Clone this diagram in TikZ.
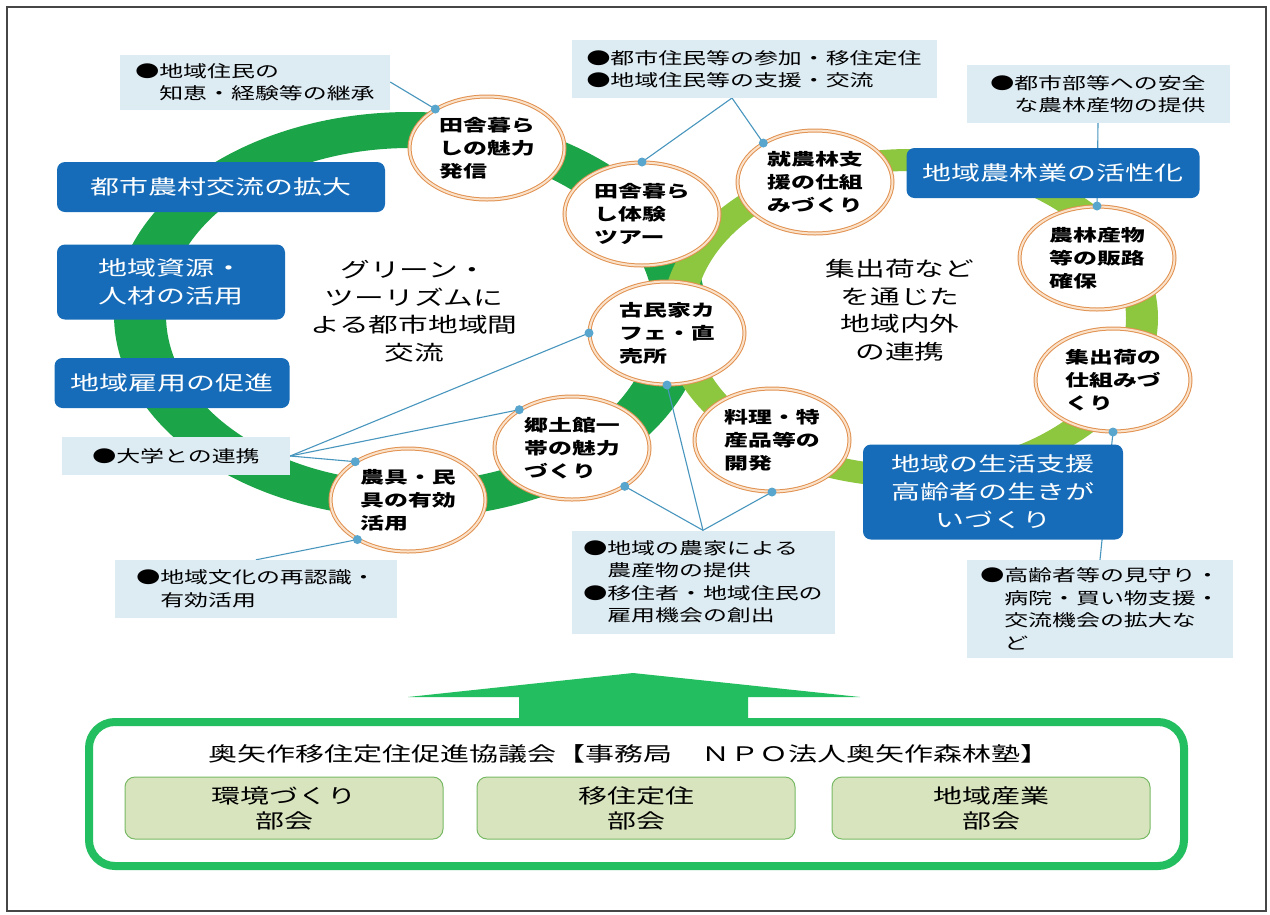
\documentclass[tikz,border=0pt]{standalone}
\usepackage{fontspec}
\usepackage{tikz}
\usetikzlibrary{shapes.geometric}
\newfontfamily\jpfont[FakeStretch=1.45]{Noto Sans CJK JP}
\definecolor{dark_green}{RGB}{28,165,72}
\definecolor{light_green}{RGB}{141,198,63}
\definecolor{base_green}{RGB}{34,190,95}
\definecolor{box_blue}{RGB}{22,108,184}
\definecolor{pale_blue}{RGB}{221,235,243}
\definecolor{line_blue}{RGB}{72,150,190}
\definecolor{dot_blue}{RGB}{88,165,205}
\definecolor{ring_orange}{RGB}{225,145,80}
\definecolor{ring_peach}{RGB}{250,226,202}
\definecolor{pale_olive}{RGB}{216,228,190}
\definecolor{olive_edge}{RGB}{120,185,100}
\definecolor{frame_gray}{RGB}{70,70,70}

\pgfdeclarelayer{back}
\pgfdeclarelayer{front}
\pgfsetlayers{back,main,front}

\tikzset{
	act_ring/.style={ellipse,draw=ring_orange,double=ring_peach,double distance=2pt,line width=1pt,fill=white,
		minimum width=155pt,minimum height=103pt,inner sep=0pt,align=left,
		font=\jpfont\bfseries\fontsize{16.5}{23}\selectfont},
	goal_box/.style={rounded corners=8pt,fill=box_blue,text=white,align=center,inner sep=0pt,
		font=\jpfont\fontsize{20}{28}\selectfont},
	note_box/.style={fill=pale_blue,align=left,inner sep=0pt,
		font=\jpfont\fontsize{16.5}{22.5}\selectfont},
	theme_text/.style={align=center,font=\jpfont\fontsize{20.5}{27.5}\selectfont},
	bukai_box/.style={draw=olive_edge,line width=1pt,fill=pale_olive,rounded corners=10pt,align=center,
		minimum width=318pt,minimum height=62pt,inner sep=0pt,font=\jpfont\fontsize{20}{25}\selectfont},
}

\begin{document}
\begin{tikzpicture}[x=1pt,y=-1pt]
	\useasboundingbox (0,0) rectangle (1270,914);

	% activities on the two rings
	\node[act_ring] (E1) at (487,148) {田舎暮ら\\しの魅力\\発信};
	\node[act_ring] (E2) at (642,214) {田舎暮ら\\し体験\\ツアー};
	\node[act_ring] (E3) at (815,182) {就農林支\\援の仕組\\みづくり};
	\node[act_ring] (E4) at (1097,258) {農林産物\\等の販路\\確保};
	\node[act_ring] (E5) at (1113,380) {集出荷の\\仕組みづ\\くり};
	\node[act_ring] (E6) at (667,333) {古民家カ\\フェ・直\\売所};
	\node[act_ring] (E7) at (772,440) {料理・特\\産品等の\\開発};
	\node[act_ring] (E8) at (572,448) {郷土館一\\帯の魅力\\づくり};
	\node[act_ring] (E9) at (408,500) {農具・民\\具の有効\\活用};

	% goals
	\node[goal_box,minimum width=328pt,minimum height=50pt] (B1) at (221,187) {都市農村交流の拡大};
	\node[goal_box,minimum width=228pt,minimum height=75pt] (B2) at (171,282) {地域資源・\\人材の活用};
	\node[goal_box,minimum width=235pt,minimum height=50pt] (B3) at (172,383) {地域雇用の促進};
	\node[goal_box,minimum width=293pt,minimum height=50pt] (B4) at (1053,173) {地域農林業の活性化};
	\node[goal_box,minimum width=260pt,minimum height=95pt] (B5) at (993,492) {地域の生活支援\\高齢者の生きが\\いづくり};

	% notes
	\node[note_box,minimum width=270pt,minimum height=55pt] (L1) at (255,82) {●地域住民の\\\phantom{●}知恵・経験等の継承};
	\node[note_box,minimum width=365pt,minimum height=58pt] (L2) at (754,69) {●都市住民等の参加・移住定住\\●地域住民等の支援・交流};
	\node[note_box,minimum width=263pt,minimum height=58pt] (L3) at (1098,94) {●都市部等への安全\\\phantom{●}な農林産物の提供};
	\node[note_box,minimum width=228pt,minimum height=38pt] (L4) at (176,456) {●大学との連携};
	\node[note_box,minimum width=282pt,minimum height=58pt] (L5) at (256,589) {●地域文化の再認識・\\\phantom{●}有効活用};
	\node[note_box,minimum width=263pt,minimum height=103pt] (L6) at (703,582) {●地域の農家による\\\phantom{●}農産物の提供\\●移住者・地域住民の\\\phantom{●}雇用機会の創出};
	\node[note_box,minimum width=266pt,minimum height=98pt] (L7) at (1100,609) {●高齢者等の見守り・\\\phantom{●}病院・買い物支援・\\\phantom{●}交流機会の拡大な\\\phantom{●}ど};

	% ring themes
	\node[theme_text] (T1) at (414,311) {グリーン・\\ツーリズムに\\よる都市地域間\\交流};
	\node[theme_text] (T2) at (900,310) {集出荷など\\を通じた\\地域内外\\の連携};

	\coordinate (L2fork) at (732,98);

	\begin{pgfonlayer}{back}
		\fill[white] (0,0) rectangle (1270,914);
		\fill[dark_green,even odd rule] (410,315) ellipse [x radius=296,y radius=203]
			(410,315) ellipse [x radius=244,y radius=167];
		\fill[light_green,even odd rule] (910,318) ellipse [x radius=248,y radius=169]
			(910,318) ellipse [x radius=216,y radius=147];
		\foreach \a/\b in {L1.east/E1.143,L2fork/E2.north,L2fork/E3.143,L3.south/E4.north,
			L4.east/E6.west,L4.east/E8.144,L4.east/E9.144,L5.north/E9.218,
			L6.north/E8.-36,L6.north/E6.south,L6.north/E7.south,L7.north/E5.south}
			\draw[line_blue,line width=1.1pt] (\a) -- (\b);
	\end{pgfonlayer}

	\begin{pgfonlayer}{front}
		\foreach \p in {E1.143,E2.north,E3.143,E4.north,E6.west,E8.144,E9.144,
			E9.218,E8.-36,E6.south,E7.south,E5.south}
			\fill[dot_blue] (\p) circle (4.5);
	\end{pgfonlayer}

	% council
	\fill[base_green] (408,697) -- (633,673) -- (860,697) -- (748,697) -- (748,722)
		-- (519,722) -- (519,697) -- cycle;
	\draw[base_green,line width=8pt,rounded corners=26pt] (89,722) rectangle (1184,866);
	\node[font=\jpfont\fontsize{20}{25}\selectfont,text=black] (council) at (629,754)
		{奥矢作移住定住促進協議会【事務局　ＮＰＯ法人奥矢作森林塾】};
	\node[bukai_box] (S1) at (284,808) {環境づくり\\部会};
	\node[bukai_box] (S2) at (636,808) {移住定住\\部会};
	\node[bukai_box] (S3) at (991,808) {地域産業\\部会};

	\draw[frame_gray,line width=2pt] (7,7) rectangle (1266,911);
\end{tikzpicture}
\end{document}
